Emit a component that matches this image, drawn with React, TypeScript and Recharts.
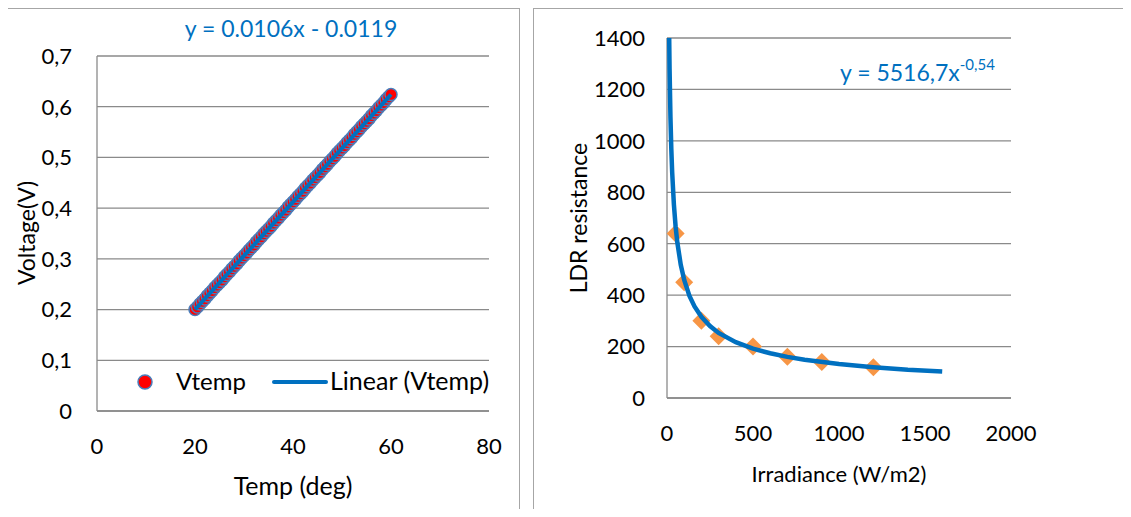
import { ScatterChart, Scatter, XAxis, YAxis, CartesianGrid } from "recharts";

// left chart: Vtemp vs temperature
const tempDeg = [
  20, 20.5, 21, 21.5, 22, 22.5, 23, 23.5, 24, 24.5, 25, 25.5, 26, 26.5, 27, 27.5,
  28, 28.5, 29, 29.5, 30, 30.5, 31, 31.5, 32, 32.5, 33, 33.5, 34, 34.5, 35, 35.5,
  36, 36.5, 37, 37.5, 38, 38.5, 39, 39.5, 40, 40.5, 41, 41.5, 42, 42.5, 43, 43.5,
  44, 44.5, 45, 45.5, 46, 46.5, 47, 47.5, 48, 48.5, 49, 49.5, 50, 50.5, 51, 51.5,
  52, 52.5, 53, 53.5, 54, 54.5, 55, 55.5, 56, 56.5, 57, 57.5, 58, 58.5, 59, 59.5, 60,
];
const vtemp = [
  0.200, 0.205, 0.211, 0.216, 0.221, 0.227, 0.232, 0.237, 0.243, 0.248, 0.253, 0.258,
  0.264, 0.269, 0.274, 0.280, 0.285, 0.290, 0.296, 0.301, 0.306, 0.311, 0.317, 0.322,
  0.327, 0.333, 0.338, 0.343, 0.349, 0.354, 0.359, 0.364, 0.370, 0.375, 0.380, 0.386,
  0.391, 0.396, 0.402, 0.407, 0.412, 0.417, 0.423, 0.428, 0.433, 0.439, 0.444, 0.449,
  0.455, 0.460, 0.465, 0.470, 0.476, 0.481, 0.486, 0.492, 0.497, 0.502, 0.508, 0.513,
  0.518, 0.523, 0.529, 0.534, 0.539, 0.545, 0.550, 0.555, 0.561, 0.566, 0.571, 0.576,
  0.582, 0.587, 0.592, 0.598, 0.603, 0.608, 0.614, 0.619, 0.624,
];
const linearX = [20, 60];
const linearY = [0.2001, 0.6241];
const voltTicks = [0, 0.1, 0.2, 0.3, 0.4, 0.5, 0.6, 0.7];
const tempTicks = [0, 20, 40, 60, 80];

// right chart: LDR resistance vs irradiance
const irradiance = [50, 100, 200, 300, 500, 700, 900, 1200];
const ldrResistance = [640, 450, 300, 240, 200, 160, 140, 120];
const powerX = [12, 15, 20, 25, 30, 40, 50, 60, 80, 100, 130, 160, 200, 250, 300, 400, 500, 600, 700, 800, 1000, 1200, 1400, 1600];
const powerY = [1441, 1278, 1094, 970, 879, 753, 667, 605, 518, 459, 398, 356, 316, 280, 253, 217, 192, 174, 160, 149, 132, 120, 110, 103];
const ldrTicks = [0, 200, 400, 600, 800, 1000, 1200, 1400];
const irrTicks = [0, 500, 1000, 1500, 2000];

const FONT = "Lato, 'Noto Sans', sans-serif";
const BLUE = "#0070C0";
const GRID = "#8a8a8a";

const zip = (xs: number[], ys: number[]) => xs.map((x, i) => ({ x, y: ys[i] }));

const vtempData = zip(tempDeg, vtemp);
const linearData = zip(linearX, linearY);
const ldrData = zip(irradiance, ldrResistance);
const powerData = zip(powerX, powerY);

const comma = (v: number) => String(v).replace(".", ",");

const tickStyle = { fill: "#000", fontSize: 22, fontFamily: FONT };

const RedDot = (p: any) => (
  <circle cx={p.cx} cy={p.cy} r={6} fill="#ff0000" stroke="#4a7ebb" strokeWidth={1.5} />
);

const Diamond = (p: any) => {
  const s = 9;
  return (
    <polygon
      points={`${p.cx},${p.cy - s} ${p.cx + s},${p.cy} ${p.cx},${p.cy + s} ${p.cx - s},${p.cy}`}
      fill="#f79646"
    />
  );
};

const NoDot = () => <g />;

export default function App() {
  return (
    <div
      style={{
        position: "relative",
        width: 1131,
        height: 517,
        margin: -8,
        background: "#fff",
        overflow: "hidden",
        fontFamily: FONT,
      }}
    >
      {/* panel frames */}
      <div style={{ position: "absolute", left: 7, top: 8, width: 511, height: 520, border: "1px solid #a6a6a6" }} />
      <div style={{ position: "absolute", left: 533, top: 8, width: 620, height: 520, border: "1px solid #a6a6a6" }} />

      <div style={{ position: "absolute", left: 0, top: 0 }}>
        <ScatterChart width={530} height={517} margin={{ top: 56, right: 41, bottom: 66, left: 37 }}>
          <CartesianGrid vertical={false} stroke={GRID} strokeWidth={1.3} />
          <XAxis
            type="number"
            dataKey="x"
            domain={[0, 80]}
            ticks={tempTicks}
            height={40}
            tickLine={false}
            tickSize={0}
            tickMargin={27}
            axisLine={{ stroke: GRID, strokeWidth: 1.3 }}
            tick={tickStyle}
          />
          <YAxis
            type="number"
            dataKey="y"
            domain={[0, 0.7]}
            ticks={voltTicks}
            width={60}
            tickLine={false}
            tickSize={0}
            tickMargin={25}
            tickFormatter={comma}
            axisLine={{ stroke: GRID, strokeWidth: 1.3 }}
            tick={tickStyle}
          />
          <Scatter data={vtempData} shape={RedDot} isAnimationActive={false} />
          <Scatter
            data={linearData}
            shape={NoDot}
            line={{ stroke: BLUE, strokeWidth: 4 }}
            lineType="joint"
            isAnimationActive={false}
          />
          <text x={291} y={37} textAnchor="middle" fill={BLUE} fontSize={23} fontFamily={FONT}>
            y = 0.0106x - 0.0119
          </text>
          <text x={293} y={495} textAnchor="middle" fill="#000" fontSize={25} fontFamily={FONT}>
            Temp (deg)
          </text>
          <text
            x={35}
            y={233}
            transform="rotate(-90 35 233)"
            textAnchor="middle"
            fill="#000"
            fontSize={23}
            fontFamily={FONT}
          >
            Voltage(V)
          </text>
          {/* legend */}
          <circle cx={145} cy={382} r={7} fill="#ff0000" stroke="#4a7ebb" strokeWidth={1.5} />
          <text x={176} y={390} fill="#000" fontSize={24} fontFamily={FONT}>
            Vtemp
          </text>
          <line x1={274} y1={382} x2={326} y2={382} stroke={BLUE} strokeWidth={4} strokeLinecap="round" />
          <text x={330} y={390} fill="#000" fontSize={25} fontFamily={FONT}>
            Linear (Vtemp)
          </text>
        </ScatterChart>
      </div>

      <div style={{ position: "absolute", left: 530, top: 0 }}>
        <ScatterChart width={601} height={517} margin={{ top: 38, right: 120, bottom: 79, left: 67 }}>
          <CartesianGrid vertical={false} stroke={GRID} strokeWidth={1.3} />
          <XAxis
            type="number"
            dataKey="x"
            domain={[0, 2000]}
            ticks={irrTicks}
            height={40}
            tickLine={false}
            tickSize={0}
            tickMargin={27}
            axisLine={{ stroke: GRID, strokeWidth: 1.3 }}
            tick={tickStyle}
          />
          <YAxis
            type="number"
            dataKey="y"
            domain={[0, 1400]}
            ticks={ldrTicks}
            allowDataOverflow
            width={70}
            tickLine={false}
            tickSize={0}
            tickMargin={22}
            axisLine={{ stroke: GRID, strokeWidth: 1.3 }}
            tick={tickStyle}
          />
          <Scatter data={ldrData} shape={Diamond} isAnimationActive={false} />
          <Scatter
            data={powerData}
            shape={NoDot}
            line={{ stroke: BLUE, strokeWidth: 4.5 }}
            lineType="joint"
            isAnimationActive={false}
          />
          <text x={310} y={81} fill={BLUE} fontSize={23} fontFamily={FONT}>
            y = 5516,7x
            <tspan dy={-11} fontSize={15}>
              -0,54
            </tspan>
          </text>
          <text x={309} y={482} textAnchor="middle" fill="#000" fontSize={22} fontFamily={FONT}>
            Irradiance (W/m2)
          </text>
          <text
            x={57}
            y={218}
            transform="rotate(-90 57 218)"
            textAnchor="middle"
            fill="#000"
            fontSize={23}
            fontFamily={FONT}
          >
            LDR resistance
          </text>
        </ScatterChart>
      </div>
    </div>
  );
}
